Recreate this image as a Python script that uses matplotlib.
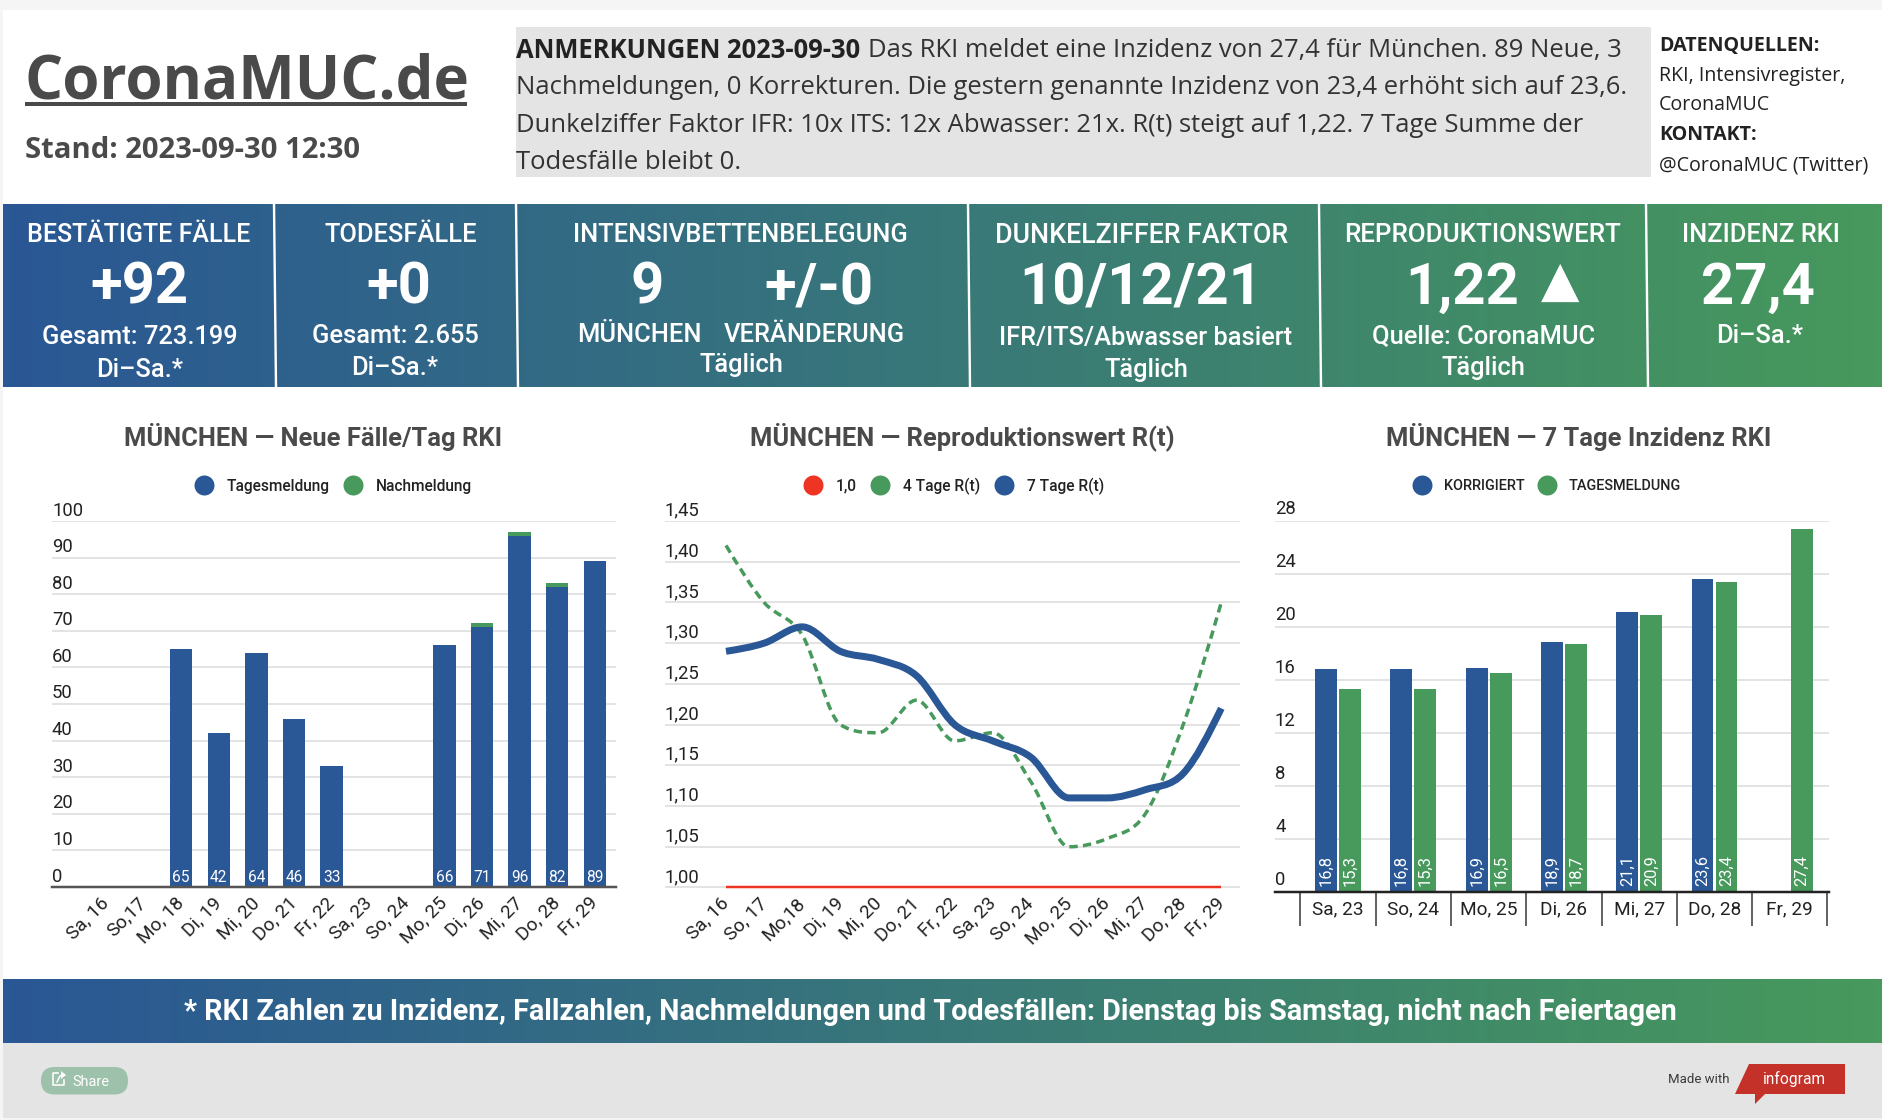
import numpy as np
import matplotlib
matplotlib.use("Agg")
import matplotlib.pyplot as plt
from matplotlib.lines import Line2D
from matplotlib.patches import Rectangle, Polygon, FancyBboxPatch, PathPatch
from matplotlib.path import Path
from matplotlib.colors import LinearSegmentedColormap
from matplotlib.transforms import Affine2D

# ---------- data ----------
days1 = ["Sa, 16", "So,17", "Mo, 18", "Di, 19", "Mi, 20", "Do, 21", "Fr, 22", "Sa, 23", "So, 24", "Mo, 25", "Di, 26", "Mi, 27", "Do, 28", "Fr, 29"]
tagesmeldung = [0, 0, 65, 42, 64, 46, 33, 0, 0, 66, 71, 96, 82, 89]
nachmeldung = [0, 0, 0, 0, 0, 0, 0, 0, 0, 0, 1, 1, 1, 0]
ticks1 = [0, 10, 20, 30, 40, 50, 60, 70, 80, 90, 100]

days2 = ["Sa, 16", "So, 17", "Mo,18", "Di, 19", "Mi, 20", "Do, 21", "Fr, 22", "Sa, 23", "So, 24", "Mo, 25", "Di, 26", "Mi, 27", "Do, 28", "Fr, 29"]
eins = [1.0] * 14
r4 = [1.42, 1.35, 1.31, 1.20, 1.19, 1.23, 1.18, 1.19, 1.13, 1.05, 1.06, 1.09, 1.20, 1.35]
r7 = [1.29, 1.30, 1.32, 1.29, 1.28, 1.26, 1.20, 1.18, 1.16, 1.11, 1.11, 1.12, 1.14, 1.22]
ticks2 = [1.00, 1.05, 1.10, 1.15, 1.20, 1.25, 1.30, 1.35, 1.40, 1.45]

days3 = ["Sa, 23", "So, 24", "Mo, 25", "Di, 26", "Mi, 27", "Do, 28", "Fr, 29"]
korrigiert = [16.8, 16.8, 16.9, 18.9, 21.1, 23.6, np.nan]
tagesinz = [15.3, 15.3, 16.5, 18.7, 20.9, 23.4, 27.4]
ticks3 = [0, 4, 8, 12, 16, 20, 24, 28]

note_lines = [
    "Das RKI meldet eine Inzidenz von 27,4 für München. 89 Neue, 3",
    "Nachmeldungen, 0 Korrekturen. Die gestern genannte Inzidenz von 23,4 erhöht sich auf 23,6.",
    "Dunkelziffer Faktor IFR: 10x ITS: 12x Abwasser: 21x. R(t) steigt auf 1,22. 7 Tage Summe der",
    "Todesfälle bleibt 0.",
]

# ---------- style ----------
W, H = 1882, 1120
BLUE, GREEN, RED = "#2a5795", "#47995c", "#ee3524"
GRID, DARK, TXT = "#e3e3e3", "#4a4a4a", "#222222"
PX = 0.72  # px -> pt at dpi 100
plt.rcParams["font.family"] = ["Roboto", "DejaVu Sans"]

fig = plt.figure(figsize=(W / 100, H / 100), dpi=100, facecolor="#f5f5f5")
ov = fig.add_axes([0, 0, 1, 1], zorder=0)
ov.set_xlim(0, W)
ov.set_ylim(H, 0)
ov.axis("off")
grad = LinearSegmentedColormap.from_list("g", [BLUE, GREEN])
gx = np.linspace(0, 1, 512)[None, :]


def T(x, y, s, px, color="white", ha="center", va="center", family="Roboto", weight="normal", **kw):
    dy = 2.5 if family == "Open Sans" else 3.5
    return ov.text(x, y + dy, s, fontsize=px * PX, color=color, ha=ha, va=va, family=family, weight=weight, **kw)


ov.add_patch(Rectangle((3, 10), W - 3, 1108, fc="white", ec="none", zorder=0))
ov.imshow(gx, extent=(3, W, 387, 204), cmap=grad, aspect="auto", zorder=1)
ov.imshow(gx, extent=(3, W, 1043, 979), cmap=grad, aspect="auto", zorder=1)
ov.set_xlim(0, W)
ov.set_ylim(H, 0)
ov.add_patch(Rectangle((3, 1043), W - 3, 75, fc="#e4e4e4", ec="none", zorder=1))
ov.add_patch(Rectangle((516, 27), 1135, 150, fc="#e4e4e4", ec="none", zorder=1))

# header
T(25, 80.3, "CoronaMUC.de", 60, DARK, ha="left", family="Open Sans", weight="bold", zorder=3)
ov.add_patch(Rectangle((25, 101.5), 442, 4, fc=DARK, ec="none", zorder=3))
T(25, 148.5, "Stand: 2023-09-30 12:30", 29.3, DARK, ha="left", family="Open Sans", weight="bold", zorder=3)
T(516, 48, "ANMERKUNGEN 2023-09-30", 25.6, "#222222", ha="left", family="Open Sans", weight="bold", zorder=3)
T(868, 48, note_lines[0], 25.6, "#333333", ha="left", family="Open Sans", zorder=3)
for yy, ln in zip((85, 123, 160), note_lines[1:]):
    T(516, yy, ln, 25.6, "#333333", ha="left", family="Open Sans", zorder=3)
side = [(43, "DATENQUELLEN:", "bold"), (73, "RKI, Intensivregister,", "normal"), (103, "CoronaMUC", "normal"),
        (133, "KONTAKT:", "bold"), (163, "@CoronaMUC (Twitter)", "normal")]
for yy, s, w in side:
    T(1659, yy, s, 19.6, "#222222", ha="left", family="Open Sans", weight=w, zorder=3)

# KPI panels
for x0 in (274, 516, 968, 1319, 1646):
    ov.plot([x0, x0 + 2], [204, 387], color="white", lw=2.4 * PX, zorder=2, solid_capstyle="butt")
HEAD, BIG, SUB = 25.5, 58, 25.5
WH, WB, WS = 500, "bold", 500
panel = [
    (139, 231, "BESTÄTIGTE FÄLLE", 25, WH), (139, 285, "+92", BIG, WB),
    (140, 333.5, "Gesamt: 723.199", SUB, WS), (140, 366.5, "Di–Sa.*", SUB, WS),
    (401, 231, "TODESFÄLLE", HEAD, WH), (399, 285, "+0", BIG, WB),
    (395, 332.5, "Gesamt: 2.655", SUB, WS), (395, 364.5, "Di–Sa.*", SUB, WS),
    (740, 231, "INTENSIVBETTENBELEGUNG", HEAD, WH), (647, 285, "9", BIG, WB), (819, 285, "+/-0", BIG, WB),
    (639.5, 331.5, "MÜNCHEN", SUB, WS), (814, 331.5, "VERÄNDERUNG", SUB, WS), (741, 361.5, "Täglich", SUB, WS),
    (1142, 232, "DUNKELZIFFER FAKTOR", 26.7, WH), (1140.5, 285, "10/12/21", BIG, WB),
    (1146, 334.5, "IFR/ITS/Abwasser basiert", SUB, WS), (1146, 366.5, "Täglich", SUB, WS),
    (1483, 232, "REPRODUKTIONSWERT", 26, WH), (1462.5, 285, "1,22", BIG, WB),
    (1484, 332.5, "Quelle: CoronaMUC", SUB, WS), (1483, 364.5, "Täglich", SUB, WS),
    (1761, 231, "INZIDENZ RKI", HEAD, WH), (1758, 285, "27,4", BIG, WB), (1760, 332.5, "Di–Sa.*", SUB, WS),
]
for x, y, s, px, w in panel:
    T(x, y, s, px, weight=w, zorder=3)
T(1560, 278, "▲", 50, family="DejaVu Sans", zorder=3)

# footer
T(930, 1008, "* RKI Zahlen zu Inzidenz, Fallzahlen, Nachmeldungen und Todesfällen: Dienstag bis Samstag, nicht nach Feiertagen", 28.8, weight="bold", zorder=3)
ov.add_patch(FancyBboxPatch((41, 1067), 87, 27.5, boxstyle="round,pad=0,rounding_size=13.7", fc="#9dc1aa", ec="none", zorder=2))
T(72, 1078, "Share", 14.5, ha="left", zorder=3)
ov.plot([58, 53, 53, 64, 64], [1073, 1073, 1085, 1085, 1080], color="white", lw=1.6 * PX, zorder=3)
ov.plot([57, 60, 64], [1082, 1076, 1075], color="white", lw=1.6 * PX, zorder=3)
ov.add_patch(Polygon([(61, 1071), (66, 1075), (61, 1079)], fc="white", ec="none", zorder=3))
T(1668, 1076, "Made with", 13.3, "#3a3a3a", ha="left", zorder=3)
ov.add_patch(Polygon([(1749, 1064), (1845, 1064), (1845, 1094), (1765, 1094), (1755, 1104), (1755, 1094), (1735, 1094)], fc="#c43129", ec="none", zorder=2))
T(1794.5, 1075, "infogram", 15.5, zorder=3)


# ---------- charts ----------
def make_axes(l, r, t, b):
    return fig.add_axes([l / W, 1 - b / H, (r - l) / W, (b - t) / H], zorder=2, facecolor="none")


def style(ax, ticks, labels, title, tx, l, r, t, b, lift=10.5):
    ax.set_yticks(ticks)
    ax.set_yticklabels(labels)
    ax.grid(axis="y", color=GRID, lw=2 * PX, zorder=0)
    ax.set_axisbelow(True)
    for s in ("top", "left", "right", "bottom"):
        ax.spines[s].set_visible(False)
    ax.tick_params(axis="y", length=0, pad=0, labelsize=18.5 * PX, labelcolor=TXT)
    for lab in ax.get_yticklabels():
        lab.set_ha("left")
        lab.set_va("center")
        lab.set_transform(lab.get_transform() + Affine2D().translate(0, lift))
    ax.set_title(title, x=(tx - l) / (r - l), y=(b - 437) / (b - t), va="center", ha="center",
                 fontsize=25.5 * PX, color=DARK, weight="bold", pad=0)


def legend(ax, handles, labels, cx, px, spacing=1.0):
    ax.legend(handles, labels, loc="center", bbox_to_anchor=(cx, 486), bbox_transform=ov.transData,
              ncol=len(labels), frameon=False, handlelength=1.0, handletextpad=0.98,
              columnspacing=spacing, borderpad=0, borderaxespad=0, labelcolor=TXT,
              prop={"weight": 500, "size": px * PX, "family": "Roboto"})


def dot(c):
    return Line2D([], [], ls="none", marker="o", ms=20 * PX, mfc=c, mec="none")


def rot_labels(ax, labels):
    ax.set_xticks(np.arange(len(labels)))
    ax.set_xticklabels(labels, rotation=45, ha="right", va="center", rotation_mode="anchor", fontsize=19 * PX, color=TXT)
    ax.tick_params(axis="x", length=0, pad=13 * PX)


# chart 1
l, r, t, b = 52, 616, 521, 887
a1 = make_axes(l, r, t, b)
step = 37.6
a1.set_xlim((l - 106) / step, (r - 106) / step)
a1.set_ylim(0, 100)
style(a1, ticks1, [str(v) for v in ticks1], "MÜNCHEN — Neue Fälle/Tag RKI", 313, l, r, t, b)
x = np.arange(len(days1))
b1 = a1.bar(x, tagesmeldung, 0.6, color=BLUE, zorder=2)
a1.bar(x, nachmeldung, 0.6, bottom=tagesmeldung, color=GREEN, zorder=2)
for xi, v in zip(x, tagesmeldung):
    if v:
        a1.annotate(str(v), (xi, 0), xytext=(0, 9), textcoords="offset pixels", ha="center", va="center", color="white", fontsize=15.5 * PX, zorder=3)
a1.spines["bottom"].set_visible(True)
a1.spines["bottom"].set_color("#555555")
a1.spines["bottom"].set_linewidth(2.5 * PX)
rot_labels(a1, days1)
legend(a1, [dot(BLUE), dot(GREEN)], ["Tagesmeldung", "Nachmeldung"], 334, 15.5)


# chart 2
def monotone_path(xs, ys):
    xs, ys = np.asarray(xs, float), np.asarray(ys, float)
    h = np.diff(xs)
    s = np.diff(ys) / h
    m = np.zeros_like(ys)
    for i in range(1, len(ys) - 1):
        if s[i - 1] * s[i] > 0:
            p = (s[i - 1] * h[i] + s[i] * h[i - 1]) / (h[i - 1] + h[i])
            m[i] = np.sign(p) * min(abs(p), 3 * abs(s[i - 1]), 3 * abs(s[i]))
    m[0] = (3 * s[0] - m[1]) / 2
    m[-1] = (3 * s[-1] - m[-2]) / 2
    verts, codes = [(xs[0], ys[0])], [Path.MOVETO]
    for i in range(len(h)):
        verts += [(xs[i] + h[i] / 3, ys[i] + m[i] * h[i] / 3),
                  (xs[i + 1] - h[i] / 3, ys[i + 1] - m[i + 1] * h[i] / 3),
                  (xs[i + 1], ys[i + 1])]
        codes += [Path.CURVE4] * 3
    return Path(verts, codes)


l, r, t, b = 665, 1240, 521, 887.5
a2 = make_axes(l, r, t, b)
step = 38.1
a2.set_xlim((l - 726) / step, (r - 726) / step)
a2.set_ylim(1.0, 1.45)
style(a2, ticks2, [f"{v:.2f}".replace(".", ",") for v in ticks2], "MÜNCHEN — Reproduktionswert R(t)", 962, l, r, t, b)
x = np.arange(len(days2))
a2.plot(x, eins, color=RED, lw=2.5 * PX, zorder=2, clip_on=False, solid_capstyle="butt")
a2.add_patch(PathPatch(monotone_path(x, r4), fc="none", ec=GREEN, lw=3.5 * PX, ls=(0, (2.4, 1.5)), zorder=3, capstyle="butt"))
a2.add_patch(PathPatch(monotone_path(x, r7), fc="none", ec=BLUE, lw=7 * PX, zorder=4, capstyle="butt"))
rot_labels(a2, days2)
legend(a2, [dot(RED), dot(GREEN), dot(BLUE)], ["1,0", "4 Tage R(t)", "7 Tage R(t)"], 954.5, 15.5)

# chart 3
l, r, t, b = 1275, 1829, 521, 892
a3 = make_axes(l, r, t, b)
step = 75.3
a3.set_xlim((l - 1338) / step, (r - 1338) / step)
a3.set_ylim(0, 28)
style(a3, ticks3, [str(v) for v in ticks3], "MÜNCHEN — 7 Tage Inzidenz RKI", 1578.5, l, r, t, b, lift=12)
x = np.arange(len(days3))
wb, off = 21.8 / step, 12 / step
c1 = a3.bar(x - off, korrigiert, wb, color=BLUE, zorder=2)
c2 = a3.bar(x + off, tagesinz, wb, color=GREEN, zorder=2)
for xs, vals in ((x - off, korrigiert), (x + off, tagesinz)):
    for xi, v in zip(xs, vals):
        if not np.isnan(v):
            a3.annotate(f"{v:.1f}".replace(".", ","), (xi, 0), xytext=(0, 6), textcoords="offset pixels", ha="center",
                        va="bottom", rotation=90, color="white", fontsize=16.5 * PX, zorder=3)
a3.spines["bottom"].set_visible(True)
a3.spines["bottom"].set_color("#222222")
a3.spines["bottom"].set_linewidth(2.5 * PX)
a3.set_xticks(x)
a3.set_xticklabels(days3, fontsize=19 * PX, color=TXT)
a3.set_xticks(np.arange(-0.5, len(days3)), minor=True)
a3.tick_params(axis="x", which="major", length=0, pad=8 * PX)
a3.tick_params(axis="x", which="minor", length=34 * PX, width=1.5 * PX, color="#333333")
legend(a3, [dot(BLUE), dot(GREEN)], ["KORRIGIERT", "TAGESMELDUNG"], 1548, 14.5, spacing=1.1)

fig.savefig("out.png", dpi=100, facecolor=fig.get_facecolor())
